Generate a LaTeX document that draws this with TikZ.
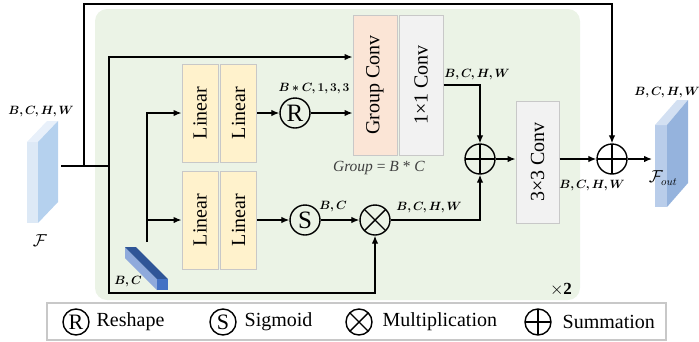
\documentclass[tikz,border=0pt]{standalone}
\usepackage{fontspec}
\setmainfont{Liberation Serif}
\usepackage{amsmath}
\usepackage{bm}
\usepackage{graphicx}
\usetikzlibrary{arrows.meta}
\definecolor{bggreen}{HTML}{EBF3E6}
\definecolor{linfill}{HTML}{FFF2CC}
\definecolor{grpfill}{HTML}{FBE5D6}
\definecolor{convfill}{HTML}{F2F2F2}
\definecolor{boxline}{HTML}{C8C8C8}
\definecolor{inFront}{HTML}{DDE9F6}
\definecolor{inSide}{HTML}{B5D1EE}
\definecolor{inTop}{HTML}{E8F0FA}
\definecolor{outFront}{HTML}{B9CDEA}
\definecolor{outSide}{HTML}{95B3DD}
\definecolor{outTop}{HTML}{D3E0F2}
\definecolor{barTop}{HTML}{2F5597}
\definecolor{barSide}{HTML}{8FAADC}
\definecolor{barEnd}{HTML}{4472C4}
\tikzset{
  layer/.style={draw=boxline, line width=1pt, inner sep=0pt, font=\fontsize{20}{20}\selectfont},
  linear/.style={layer, fill=linfill, minimum width=36pt, minimum height=98pt},
  op/.style={draw, circle, line width=1.4pt, minimum size=30pt, inner sep=0pt, font=\fontsize{25}{25}\selectfont},
  sumop/.style={op, path picture={\draw[line width=1.4pt] (path picture bounding box.north) -- (path picture bounding box.south) (path picture bounding box.west) -- (path picture bounding box.east);}},
  mulop/.style={op, path picture={\draw[line width=1.4pt] (path picture bounding box.north west) -- (path picture bounding box.south east) (path picture bounding box.north east) -- (path picture bounding box.south west);}},
  legop/.style={minimum size=26pt, font=\fontsize{22}{22}\selectfont},
  dim/.style={inner sep=1pt, font=\fontsize{11.5}{12}\selectfont},
  legtxt/.style={anchor=west, inner sep=0pt, font=\fontsize{20}{20}\selectfont},
}
\begin{document}
\begin{tikzpicture}[x=1pt,y=-1pt,line width=1.3pt,>={Latex[length=8pt,width=6.5pt]}]
\useasboundingbox (0,0) rectangle (699,341);
\fill[bggreen,rounded corners=12pt] (95,9) rectangle (580,300);
\fill[inFront] (27,142) -- (38,142) -- (38,223) -- (27,223) -- cycle;
\fill[inTop] (27,142) -- (47,121) -- (58,121) -- (38,142) -- cycle;
\fill[inSide] (38,142) -- (58,121) -- (58,202) -- (38,223) -- cycle;
\fill[outFront] (655,125) -- (667,125) -- (667,207) -- (655,207) -- cycle;
\fill[outTop] (655,125) -- (677,100) -- (688,100) -- (667,125) -- cycle;
\fill[outSide] (667,125) -- (688,100) -- (688,183) -- (667,207) -- cycle;
\fill[barSide] (125,247) -- (157,279) -- (157,290) -- (125,258) -- cycle;
\fill[barTop] (125,247) -- (136,247) -- (168,279) -- (157,279) -- cycle;
\fill[barEnd] (157,279) rectangle (168,290);
\node at (200,113) [linear](lin1){\rotatebox{90}{Linear}};
\node at (238.5,113) [linear](lin2){\rotatebox{90}{Linear}};
\node at (200,220) [linear](lin3){\rotatebox{90}{Linear}};
\node at (238.5,220) [linear](lin4){\rotatebox{90}{Linear}};
\node at (375,85) [layer,fill=grpfill,minimum width=44pt,minimum height=140pt](gconv){\rotatebox{90}{Group Conv}};
\node at (421,85) [layer,fill=convfill,minimum width=44pt,minimum height=140pt](conv1){\rotatebox{90}{1×1 Conv}};
\node at (537.5,162) [layer,fill=convfill,minimum width=43pt,minimum height=122pt](conv3){\rotatebox{90}{3×3 Conv}};
\node at (295,113) [op](R){R};
\node at (305,220) [op](S){S};
\node at (375,220) [mulop](mul){};
\node at (480,159) [sumop](sum1){};
\node at (612,159) [sumop](sum2){};
\coordinate (fin) at (61,166);
\coordinate (b1) at (84,166);
\coordinate (b2) at (109,166);
\coordinate (v1) at (147,242);
\coordinate (fout) at (652,159);
\draw (fin) -- (b2);
\draw[->] (b1) -- ++(0,-162) -| (sum2);
\draw[->] (b2) |- ([yshift=28pt]gconv.west);
\draw[->] (b2) -- ++(0,127) -| (mul);
\draw[->] (v1) |- (lin1);
\draw[->] (v1 |- lin3) -- (lin3);
\draw[->] (lin2) -- (R);
\draw[->] (R) -- (gconv.west |- R);
\draw[->] (lin4) -- (S);
\draw[->] (S) -- (mul);
\draw[->] (conv1.east) -| (sum1);
\draw[->] (mul) -| (sum1);
\draw[->] (sum1) -- (sum1 -| conv3.west);
\draw[->] (conv3.east |- sum2) -- (sum2);
\draw[->] (sum2) -- (fout);
\node at (41,112) [dim](lbin){$\bm{B,C,H,W}$};
\node at (40,241) [font=\fontsize{16}{16}\selectfont](lbF){$\mathcal{F}$};
\node at (314,89) [dim](lbR){$\bm{B*C,1,3,3}$};
\node at (379,168) [font=\fontsize{15.5}{16}\selectfont,text=black!75](lbG){\textit{Group} = \textit{B} * \textit{C}};
\node at (333,207) [dim](lbS){$\bm{B,C}$};
\node at (429,208) [dim](lbM){$\bm{B,C,H,W}$};
\node at (477,75) [dim](lb1){$\bm{B,C,H,W}$};
\node at (592,186) [dim](lb3){$\bm{B,C,H,W}$};
\node at (667,93) [dim](lbout){$\bm{B,C,H,W}$};
\node at (663,178) [font=\fontsize{16}{16}\selectfont](lbFo){$\mathcal{F}_{out}$};
\node at (128,282) [dim](lbbar){$\bm{B,C}$};
\node at (561,290) [font=\fontsize{17}{17}\selectfont](rep){$\times$\textbf{2}};
\draw[draw=boxline,fill=white,line width=1.2pt] (47,303) rectangle (666,340);
\node at (76,322) [op,legop](lgR){R};
\node at (96,322) [legtxt](lgRt){Reshape};
\node at (223,322) [op,legop](lgS){S};
\node at (244,322) [legtxt](lgSt){Sigmoid};
\node at (359,322) [mulop,legop](lgM){};
\node at (382,322) [legtxt](lgMt){Multiplication};
\node at (538,322) [sumop,legop](lgP){};
\node at (562,322) [legtxt](lgPt){Summation};
\end{tikzpicture}
\end{document}
